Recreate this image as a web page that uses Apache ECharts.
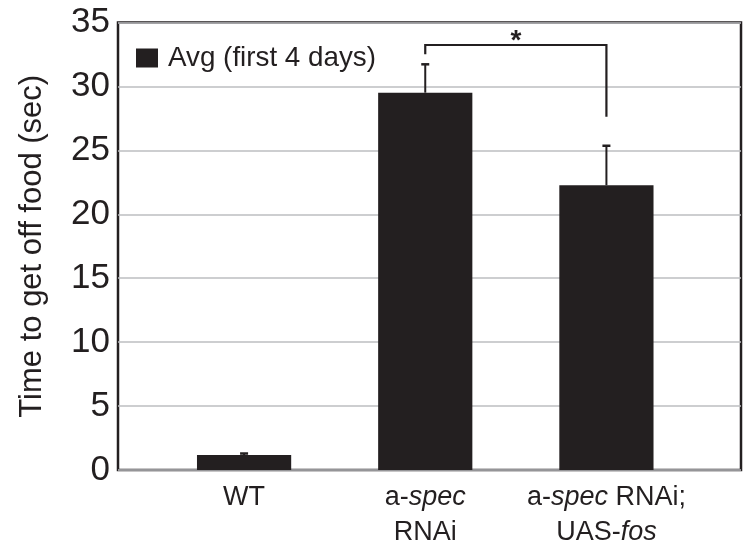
<!DOCTYPE html>
<html>
<head>
<meta charset="utf-8">
<script src="https://cdn.jsdelivr.net/npm/echarts@6/dist/echarts.min.js"></script>
<style>
html,body{margin:0;padding:0;background:#fff;}
#chart{width:743px;height:555px;}
</style>
</head>
<body>
<div id="chart"></div>
<script>
// ---- data ----
var categories = ['WT', 'a-spec RNAi', 'a-spec RNAi; UAS-fos'];
var categoryLabels = [
  '{n|WT}',
  '{n|a-}{i|spec}\n{n|RNAi}',
  '{n|a-}{i|spec}{n| RNAi;}\n{n|UAS-}{i|fos}'
];
var avgValues = [1.17, 29.51, 22.27];
var errValues = [0.12, 2.22, 3.09];
var yTicks = [0, 5, 10, 15, 20, 25, 30, 35];
var legendName = 'Avg (first 4 days)';
// significance bracket: [fromCategory, toCategory, topValue, leftEnd, rightEnd]
var bracket = [1, 2, 33.24, 32.51, 27.63];
var starValue = 33.55;

var INK = '#231f20';
var FONT = '"Liberation Sans", Arial, Helvetica, sans-serif';

var chart = echarts.init(document.getElementById('chart'), null, {renderer: 'canvas'});

var errData = categories.map(function (c, i) {
  return [i, avgValues[i], avgValues[i] + errValues[i]];
});

var option = {
  animation: false,
  backgroundColor: '#ffffff',
  textStyle: {fontFamily: FONT, color: INK},
  legend: {
    show: true,
    data: [legendName],
    left: 136,
    top: 43,
    padding: 0,
    itemWidth: 22,
    itemHeight: 19,
    icon: 'rect',
    textStyle: {fontSize: 27.8, color: INK, fontFamily: FONT, padding: [0, 0, 0, 5], lineHeight: 30}
  },
  grid: [
    {left: 118, right: 2, top: 22.5, bottom: 85, show: true, borderColor: INK, borderWidth: 2.5, backgroundColor: 'transparent', containLabel: false},
    {left: 153.5, right: 46, top: 22.5, bottom: 85, containLabel: false}
  ],
  xAxis: [
    {type: 'value', gridIndex: 0, min: 0, max: 1, show: false},
    {
      type: 'category', gridIndex: 1, data: categories,
      axisLine: {show: false}, axisTick: {show: false},
      axisLabel: {
        show: true, margin: 10, interval: 0,
        formatter: function (v, idx) { return categoryLabels[idx]; },
        rich: {
          n: {fontSize: 27, fontFamily: FONT, color: INK, lineHeight: 35},
          i: {fontSize: 27, fontFamily: FONT, color: INK, fontStyle: 'italic', lineHeight: 35}
        }
      }
    }
  ],
  yAxis: [
    {
      type: 'value', gridIndex: 0, min: 0, max: 35, interval: 5,
      name: 'Time to get off food (sec)',
      nameLocation: 'middle', nameGap: 70,
      nameTextStyle: {fontSize: 31, fontFamily: FONT, color: INK},
      axisLine: {show: false}, axisTick: {show: false},
      axisLabel: {
        fontSize: 35, fontFamily: FONT, color: INK, margin: 8,
        formatter: function (v) { return yTicks.indexOf(v) >= 0 ? String(v) : ''; }
      },
      splitLine: {show: true, lineStyle: {color: '#bcbec0', width: 1.5}}
    },
    {type: 'value', gridIndex: 1, min: 0, max: 35, interval: 5, show: false, splitLine: {show: false}}
  ],
  series: [
    {
      name: legendName,
      type: 'bar',
      xAxisIndex: 1, yAxisIndex: 1,
      data: avgValues,
      barWidth: '52%',
      itemStyle: {color: INK},
      z: 3
    },
    {
      name: 'err',
      type: 'custom',
      xAxisIndex: 1, yAxisIndex: 1,
      data: errData,
      z: 4,
      renderItem: function (params, api) {
        var x = api.value(0);
        var p0 = api.coord([x, api.value(1)]);
        var p1 = api.coord([x, api.value(2)]);
        var half = 4;
        return {
          type: 'group',
          children: [
            {type: 'line', shape: {x1: p0[0], y1: p0[1], x2: p1[0], y2: p1[1]}, style: {stroke: INK, lineWidth: 2}},
            {type: 'line', shape: {x1: p1[0] - half, y1: p1[1], x2: p1[0] + half, y2: p1[1]}, style: {stroke: INK, lineWidth: 2.5}}
          ]
        };
      }
    },
    {
      name: 'bracket',
      type: 'custom',
      xAxisIndex: 1, yAxisIndex: 1,
      data: [bracket],
      z: 4,
      renderItem: function (params, api) {
        var a = api.value(0), b = api.value(1);
        var top = api.value(2), le = api.value(3), re = api.value(4);
        var pTL = api.coord([a, top]);
        var pTR = api.coord([b, top]);
        var pL = api.coord([a, le]);
        var pR = api.coord([b, re]);
        var sY = api.coord([a, starValue])[1];
        var sX = (pTL[0] + pTR[0]) / 2;
        return {
          type: 'group',
          children: [
            {type: 'polyline', shape: {points: [pL, pTL, pTR, pR]}, style: {stroke: INK, lineWidth: 2.2, fill: null}},
            {type: 'text', x: sX, y: sY, style: {text: '*', fontSize: 28, fontWeight: 'bold', fontFamily: FONT, fill: INK, align: 'center', verticalAlign: 'middle'}}
          ]
        };
      }
    }
  ]
};
chart.setOption(option);
</script>
</body>
</html>
